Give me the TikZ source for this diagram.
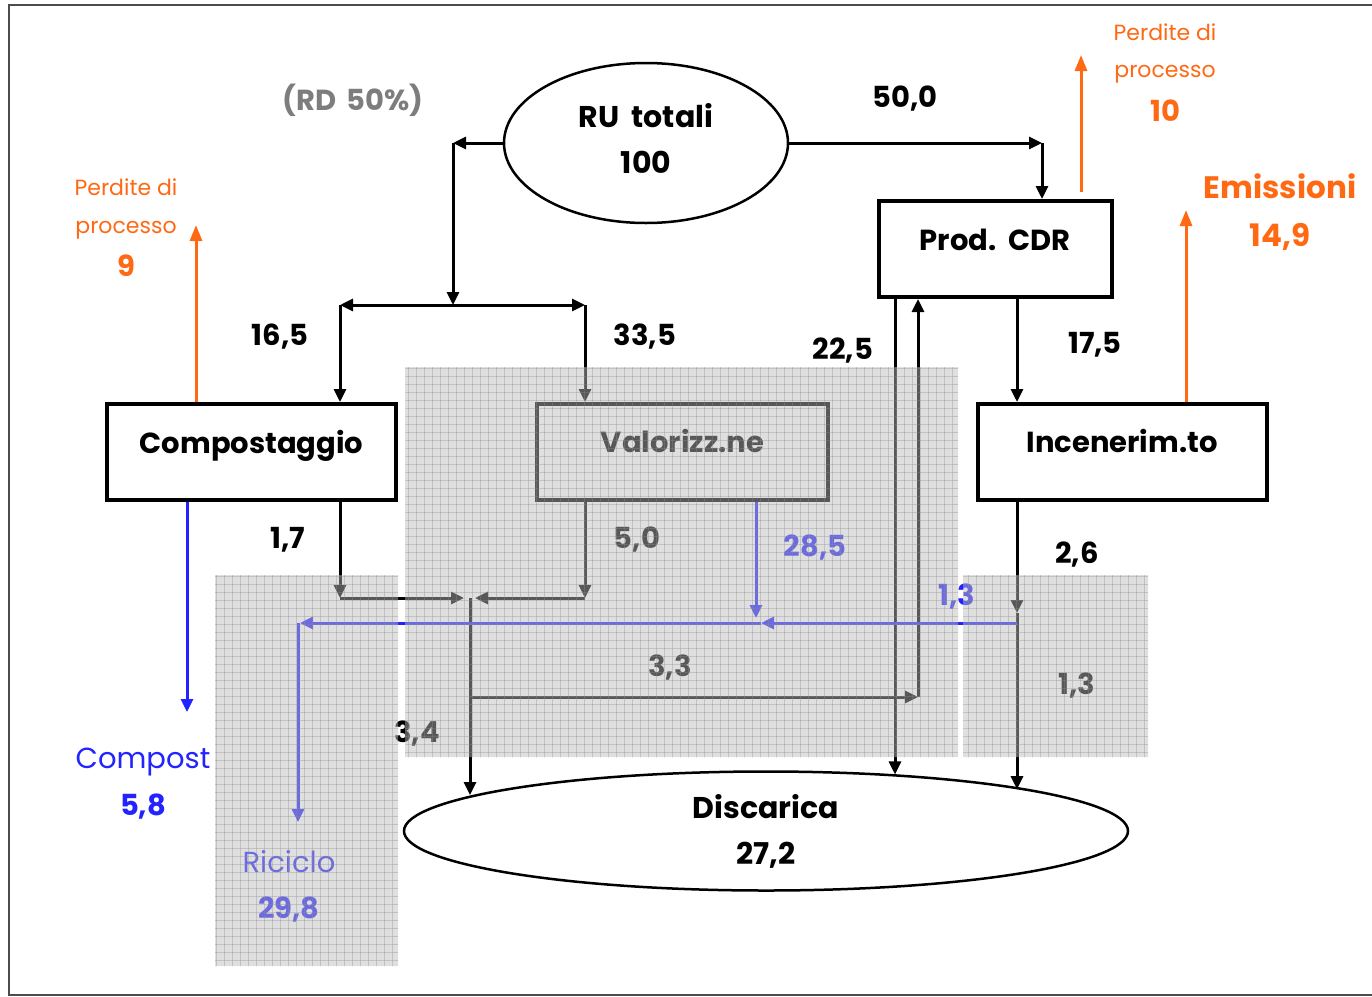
\documentclass[tikz,border=0pt]{standalone}
\usepackage{fontspec}
\setmainfont{Poppins}
\usetikzlibrary{arrows.meta,shapes.geometric}
\definecolor{flowblue}{RGB}{35,35,255}
\definecolor{lossorange}{RGB}{255,105,20}
\definecolor{notegray}{RGB}{125,125,125}
\begin{document}
\begin{tikzpicture}[x=1pt,y=-1pt,
  box/.style={draw, line width=4pt, minimum height=96pt, inner sep=0pt},
  blob/.style={draw, ellipse, line width=2.5pt, inner sep=0pt, align=center,
    font=\bfseries\fontsize{30}{46}\selectfont},
  flow/.style={line width=3pt, -{Triangle[length=13pt,width=12pt]}},
  flowb/.style={flow, draw=flowblue},
  flowo/.style={line width=3pt, draw=lossorange, -{Triangle[length=16pt,width=12pt]}},
  lbl/.style={inner sep=0pt, text height=20pt, text depth=0pt,
    font=\bfseries\fontsize{29}{34}\selectfont},
  lblthin/.style={lbl, font=\fontsize{29}{34}\selectfont},
  small/.style={inner sep=0pt, text height=15pt, text depth=0pt,
    font=\fontsize{22}{26}\selectfont, text=lossorange},
  shade/.style={fill=black!26, opacity=.47},
  gridline/.style={black!45, opacity=.35, line width=0.8pt}
]
\useasboundingbox (0,0) rectangle (1372,996);
\fill[white] (0,0) rectangle (1372,996);

% frame
\draw[black!70, line width=2.5pt] (1380,5) -- (9,5) -- (9,995) -- (1380,995);

% process boxes
\node[box, minimum width=289pt] (comp) at (251.5,452) {};
\node[box, minimum width=291pt] (valor) at (682.5,452) {};
\node[box, minimum width=289pt] (incen) at (1122.5,452) {};
\node[box, minimum width=233pt] (prod) at (995.5,249) {};
\node[lbl] (compt) at (251.5,443) {Compostaggio};
\node[lbl] (valort) at (682.5,442) {Valorizz.ne};
\node[lbl] (incent) at (1122,442) {Incenerim.to};
\node[lbl] (prodt) at (995,240) {Prod.\hspace{12pt}CDR};

% source and landfill
\node[blob, minimum width=284pt, minimum height=160pt, text depth=10pt] (ru) at (646,143) {RU\hspace{12pt}totali\\100};
\node[blob, minimum width=724pt, minimum height=119pt] (dis) at (766,831) {Discarica\\27,2};

% split of the total
\coordinate (ruL) at (453,143);
\coordinate (split) at (453,305);
\coordinate (toComp) at (340,305);
\coordinate (toVal) at (585,305);
\coordinate (ruR) at (1042,143);
\draw[flow] (ru.west) -- (ruL);
\draw[flow] (ruL) -- (split);
\draw[flow] (split) -- (toComp);
\draw[flow] (split) -- (toVal);
\draw[flow] (toComp) -- (toComp |- comp.north);
\draw[flow] (toVal) -- (toVal |- valor.north);
\draw[flow] (ru.east) -- (ruR);
\draw[flow] (ruR) -- (ruR |- prod.north);

% CDR production
\coordinate (p2i) at (1017,0);
\coordinate (pd) at (895,0);
\draw[flow] (p2i |- prod.south) -- (p2i |- incen.north);
\draw[flow] (pd |- prod.south) -- (pd |- dis.23.8);

% residues collected towards the landfill
\coordinate (c1) at (340,598);
\coordinate (c2) at (585,598);
\coordinate (jL) at (464,598);
\coordinate (jR) at (475,598);
\coordinate (j) at (470,598);
\draw[flow] (c1 |- comp.south) -- (c1);
\draw[flow] (c1) -- (jL);
\draw[flow] (c2 |- valor.south) -- (c2);
\draw[flow] (c2) -- (jR);
\draw[flow] (j) -- (j |- dis.173.2);

% return to CDR
\coordinate (ret) at (470,697);
\coordinate (retR) at (918,697);
\draw[flow] (ret) -- (retR);
\draw[flow] (retR) -- (retR |- prod.south);

% incineration residues
\coordinate (id) at (1017,613);
\draw[flow] (id |- incen.south) -- (id);
\draw[flow] (id) -- (id |- dis.9.97);

% recycling (blue)
\coordinate (bv) at (756,618);
\coordinate (bi) at (1017,623);
\coordinate (bm) at (761,623);
\coordinate (bl) at (300,623);
\coordinate (bc) at (298,623);
\coordinate (bd) at (298,822);
\coordinate (cb) at (187,712);
\draw[flowb] (bv |- valor.south) -- (bv);
\draw[flowb] (bi) -- (bm);
\draw[flowb] (bm) -- (bl);
\draw[flowb] (bc) -- (bd);
\draw[flowb] (cb |- comp.south) -- (cb);

% losses (orange)
\coordinate (o1) at (196,225);
\coordinate (o2s) at (1081,192);
\coordinate (o2) at (1081,55);
\coordinate (o3) at (1186,210);
\draw[flowo] (o1 |- comp.north) -- (o1);
\draw[flowo] (o2s) -- (o2);
\draw[flowo] (o3 |- incen.north) -- (o3);

% flow values
\node[lbl, text=notegray] (rd) at (353,100) {(RD\hspace{10pt}50\%)};
\node[lbl] (v500) at (905,97) {50,0};
\node[lbl] (v165) at (280,335) {16,5};
\node[lbl] (v335) at (645,335) {33,5};
\node[lbl] (v225) at (843,349) {22,5};
\node[lbl] (v175) at (1095,343) {17,5};
\node[lbl] (v17) at (288,538) {1,7};
\node[lbl] (v50) at (637,538) {5,0};
\node[lbl, text=flowblue] (v285) at (815,546) {28,5};
\node[lbl] (v26) at (1077,553) {2,6};
\node[lbl, text=flowblue] (v13b) at (957,595) {1,3};
\node[lbl] (v33) at (670,666) {3,3};
\node[lbl] (v13) at (1077,684) {1,3};
\node[lbl] (v34) at (417,732) {3,4};

% outputs
\node[lblthin, text=flowblue] (compo) at (143,758) {Compost};
\node[lbl, text=flowblue] (compv) at (143,805) {5,8};
\node[lblthin, text=flowblue] (ric) at (289,862) {Riciclo};
\node[lbl, text=flowblue] (ricv) at (289,908) {29,8};

% losses labels
\node[small] (pl1) at (126,188) {Perdite di};
\node[small] (pl2) at (126,226) {processo};
\node[lbl, text=lossorange] (pl3) at (126,266) {9};
\node[small] (pr1) at (1165,33) {Perdite di};
\node[small] (pr2) at (1165,70) {processo};
\node[lbl, text=lossorange] (pr3) at (1165,111) {10};
\node[lbl, text=lossorange, font=\bfseries\fontsize{31}{36}\selectfont] (em1) at (1280,188) {Emissioni};
\node[lbl, text=lossorange, font=\bfseries\fontsize{31}{36}\selectfont] (em2) at (1280,236) {14,9};

% hatched grey areas laid over the drawing
\fill[shade] (405,367) rectangle (958,757) (215,575) rectangle (398,966) (963,575) rectangle (1148,757);
\begin{scope}
  \clip (405,367) rectangle (958,757) (215,575) rectangle (398,966) (963,575) rectangle (1148,757);
  \foreach \gx in {200,208,...,1160} \draw[gridline] (\gx,360) -- (\gx,970);
  \foreach \gy in {360,368,...,970} \draw[gridline] (200,\gy) -- (1160,\gy);
\end{scope}
\end{tikzpicture}
\end{document}
